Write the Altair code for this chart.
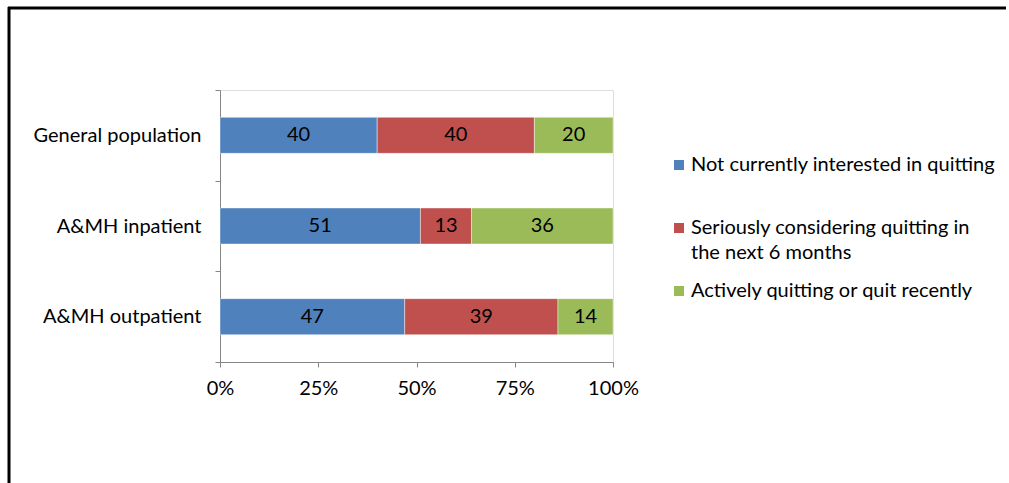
import altair as alt
import pandas as pd

groups = ["General population", "A&MH inpatient", "A&MH outpatient"]
stages = [
    "Not currently interested in quitting",
    "Seriously considering quitting in the next 6 months",
    "Actively quitting or quit recently",
]
not_interested = [40, 51, 47]
considering = [40, 13, 39]
active = [20, 36, 14]
colors = ["#4F81BD", "#C0504D", "#9BBB59"]
x_ticks = [0, 25, 50, 75, 100]

rows = []
for i, g in enumerate(groups):
    for j, vals in enumerate([not_interested, considering, active]):
        rows.append({"group": g, "stage": stages[j], "value": vals[i], "order": j})
df = pd.DataFrame(rows)

FONT = "Lato"
FS = 20
AXIS_COLOR = "#868686"

base = alt.Chart(df).transform_stack(
    stack="value",
    groupby=["group"],
    as_=["x0", "x1"],
    sort=[alt.SortField("order", order="ascending")],
).transform_calculate(mid="(datum.x0 + datum.x1) / 2")

y_enc = alt.Y(
    "group:N",
    sort=groups,
    title=None,
    scale=alt.Scale(paddingInner=0, paddingOuter=0),
    axis=alt.Axis(
        tickBand="extent",
        domainColor=AXIS_COLOR,
        tickColor=AXIS_COLOR,
        tickSize=5,
        labelPadding=14,
        labelFont=FONT,
        labelFontSize=FS,
        labelColor="black",
        labelLimit=400,
    ),
)

legend = alt.Legend(
    title=None,
    orient="none",
    legendX=449,
    legendY=65,
    direction="vertical",
    symbolType="square",
    symbolSize=100,
    symbolStrokeWidth=0,
    labelFont=FONT,
    labelFontSize=FS,
    labelColor="black",
    labelOffset=2,
    labelLimit=0,
    rowPadding=18,
    gridAlign="all",
    padding=0,
    labelExpr="datum.label == 'Seriously considering quitting in the next 6 months' ? ['Seriously considering quitting in', 'the next 6 months'] : datum.label",
)

bars = base.mark_bar(size=36, stroke="white", strokeWidth=0.6, strokeOpacity=0.7).encode(
    x=alt.X(
        "x0:Q",
        title=None,
        scale=alt.Scale(domain=[0, 100], nice=False),
        axis=alt.Axis(
            values=x_ticks,
            labelExpr="datum.value + '%'",
            labelFlush=False,
            grid=False,
            domainColor=AXIS_COLOR,
            tickColor=AXIS_COLOR,
            tickSize=5,
            labelPadding=11,
            labelFont=FONT,
            labelFontSize=FS,
            labelColor="black",
        ),
    ),
    x2="x1:Q",
    y=y_enc,
    color=alt.Color("stage:N", scale=alt.Scale(domain=stages, range=colors), legend=legend),
)

labels = base.mark_text(font=FONT, fontSize=FS, color="black").encode(
    x=alt.X("mid:Q"),
    y=alt.Y("group:N", sort=groups),
    text=alt.Text("value:Q"),
)

frame_df = pd.DataFrame({"k": [0]})
top_border = alt.Chart(frame_df).mark_rule(color="black", strokeWidth=3, clip=False).encode(
    x=alt.value(-212), x2=alt.value(786), y=alt.value(-82)
)
left_border = alt.Chart(frame_df).mark_rule(color="black", strokeWidth=3, clip=False).encode(
    x=alt.value(-211), y=alt.value(-83), y2=alt.value(400)
)

chart = alt.layer(bars, labels, top_border, left_border).properties(
    width=393,
    height=272,
    autosize=alt.AutoSizeParams(type="none"),
    padding={"left": 220, "top": 90, "right": 396, "bottom": 121},
).configure_view(stroke=None).configure(
    background="white",
    style={"guide-label": {"lineHeight": 25}},
)

chart.save("out.html", embed_options={"renderer": "svg", "actions": False})
